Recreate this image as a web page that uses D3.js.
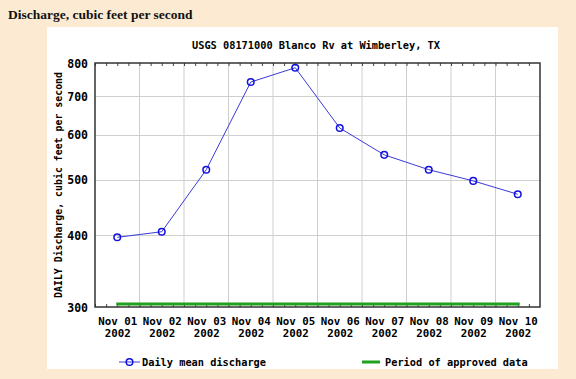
<!DOCTYPE html>
<html><head><meta charset="utf-8">
<script src="https://cdn.jsdelivr.net/npm/d3@7"></script>
<style>
body{margin:0;background:#FCEBD2;}
svg{display:block;}
</style></head>
<body>
<svg id="c" width="576" height="379"></svg>
<script>
const days = ["2002-11-01","2002-11-02","2002-11-03","2002-11-04","2002-11-05","2002-11-06","2002-11-07","2002-11-08","2002-11-09","2002-11-10"];
const dayLabels = ["Nov 01","Nov 02","Nov 03","Nov 04","Nov 05","Nov 06","Nov 07","Nov 08","Nov 09","Nov 10"];
const yearLabel = "2002";
const discharge = [397, 406, 521, 741, 785, 616, 553, 521, 498, 472];
const yTicks = [300, 400, 500, 600, 700, 800];
const approvedPeriod = ["2002-11-01","2002-11-10"];
const approvedLevel = 303.5;

const svg = d3.select("#c");
const parse = d3.utcParse("%Y-%m-%d");
const noon = s => new Date(parse(s).getTime() + 12*3600e3);

const L = 95, R = 540, T = 63, B = 307;
const x = d3.scaleUtc().domain([parse("2002-11-01"), parse("2002-11-11")]).range([L, R]);
const y = d3.scaleLog().domain([300, 800]).range([B, T]);

// header
svg.append("text").attr("x", 8).attr("y", 19)
  .attr("font-family", "Liberation Serif, serif").attr("font-weight", "bold")
  .attr("font-size", 13.5).attr("fill", "#111").text("Discharge, cubic feet per second");

// white panel
svg.append("rect").attr("x", 47).attr("y", 27).attr("width", 511).attr("height", 342).attr("fill", "#fff");

const mono = "DejaVu Sans Mono, monospace";

// title
svg.append("text").attr("x", 316).attr("y", 49).attr("text-anchor", "middle")
  .attr("font-family", mono).attr("font-weight", "bold").attr("font-size", 10.3)
  .attr("fill", "#000").text("USGS 08171000 Blanco Rv at Wimberley, TX");

// grid
const g = svg.append("g");
const midnights = d3.utcDay.range(parse("2002-11-02"), parse("2002-11-11"));
g.selectAll(".vg").data(midnights).join("line")
  .attr("x1", d => x(d)).attr("x2", d => x(d)).attr("y1", T).attr("y2", B)
  .attr("stroke", "#cfcfcf").attr("stroke-width", 1);
g.selectAll(".hg").data(yTicks.filter(v => v > 300 && v < 800)).join("line")
  .attr("x1", L).attr("x2", R).attr("y1", d => Math.round(y(d)) + 0.5).attr("y2", d => Math.round(y(d)) + 0.5)
  .attr("stroke", "#cfcfcf").attr("stroke-width", 1);

// minor ticks every 6 hours, inward on top and bottom
const minor = d3.utcHour.every(6).range(parse("2002-11-01"), parse("2002-11-11"));
const ax = svg.append("g");
ax.append("g").attr("transform", `translate(0,${B})`)
  .call(d3.axisBottom(x).tickValues(minor).tickSize(-3).tickFormat(""))
  .call(s => s.select(".domain").remove())
  .call(s => s.selectAll("line").attr("stroke", "#444"));
ax.append("g").attr("transform", `translate(0,${T})`)
  .call(d3.axisTop(x).tickValues(minor).tickSize(-3).tickFormat(""))
  .call(s => s.select(".domain").remove())
  .call(s => s.selectAll("line").attr("stroke", "#444"));

// approved data line
svg.append("line")
  .attr("x1", x(noon(approvedPeriod[0])) - 1).attr("x2", x(noon(approvedPeriod[1])) + 2)
  .attr("y1", y(approvedLevel)).attr("y2", y(approvedLevel))
  .attr("stroke", "#1fa01f").attr("stroke-width", 3);

// frame
svg.append("rect").attr("x", L).attr("y", T).attr("width", R - L).attr("height", B - T)
  .attr("fill", "none").attr("stroke", "#333").attr("stroke-width", 1.5);

// y labels
const ya = svg.append("g").attr("transform", `translate(${L},0)`)
  .call(d3.axisLeft(y).tickValues(yTicks).tickSize(0).tickPadding(7).tickFormat(d3.format("d")));
ya.select(".domain").remove();
ya.selectAll("text").attr("font-family", mono).attr("font-weight", "bold").attr("font-size", 11.5).attr("fill", "#000").attr("dy", "0.35em");

// x labels
const xa = svg.append("g").attr("transform", `translate(0,${B})`)
  .call(d3.axisBottom(x).tickValues(days.map(noon)).tickSize(0).tickPadding(0).tickFormat(""));
xa.select(".domain").remove();
xa.selectAll(".tick").each(function(d, i) {
  const t = d3.select(this).append("text").attr("font-family", mono).attr("font-weight", "bold")
    .attr("font-size", 10.8).attr("fill", "#000").attr("text-anchor", "middle");
  t.append("tspan").attr("x", 0).attr("y", 18).text(dayLabels[i]);
  t.append("tspan").attr("x", 0).attr("y", 30).text(yearLabel);
});

// y axis title
svg.append("text").attr("transform", `translate(62,185) rotate(-90)`).attr("text-anchor", "middle")
  .attr("font-family", mono).attr("font-weight", "bold").attr("font-size", 9.9).attr("fill", "#000")
  .text("DAILY Discharge, cubic feet per second");

// series
const pts = days.map((d, i) => [noon(d), discharge[i]]);
svg.append("path").datum(pts)
  .attr("d", d3.line().x(d => x(d[0])).y(d => y(d[1])))
  .attr("fill", "none").attr("stroke", "#3a3ad8").attr("stroke-width", 1);
svg.selectAll(".pt").data(pts).join("circle")
  .attr("cx", d => x(d[0])).attr("cy", d => y(d[1])).attr("r", 3.3)
  .attr("fill", "none").attr("stroke", "#1010e0").attr("stroke-width", 1.5);

// legend
const lg = svg.append("g");
lg.append("line").attr("x1", 119).attr("x2", 140).attr("y1", 362).attr("y2", 362).attr("stroke", "#3a3ad8").attr("stroke-width", 1);
lg.append("circle").attr("cx", 129.5).attr("cy", 362).attr("r", 3.3).attr("fill", "none").attr("stroke", "#1010e0").attr("stroke-width", 1.5);
lg.append("text").attr("x", 142).attr("y", 366).attr("font-family", mono).attr("font-weight", "bold")
  .attr("font-size", 10.3).attr("fill", "#000").text("Daily mean discharge");
lg.append("line").attr("x1", 362).attr("x2", 380).attr("y1", 362).attr("y2", 362).attr("stroke", "#1fa01f").attr("stroke-width", 3);
lg.append("text").attr("x", 385).attr("y", 366).attr("font-family", mono).attr("font-weight", "bold")
  .attr("font-size", 10.3).attr("fill", "#000").text("Period of approved data");
</script>
</body></html>
